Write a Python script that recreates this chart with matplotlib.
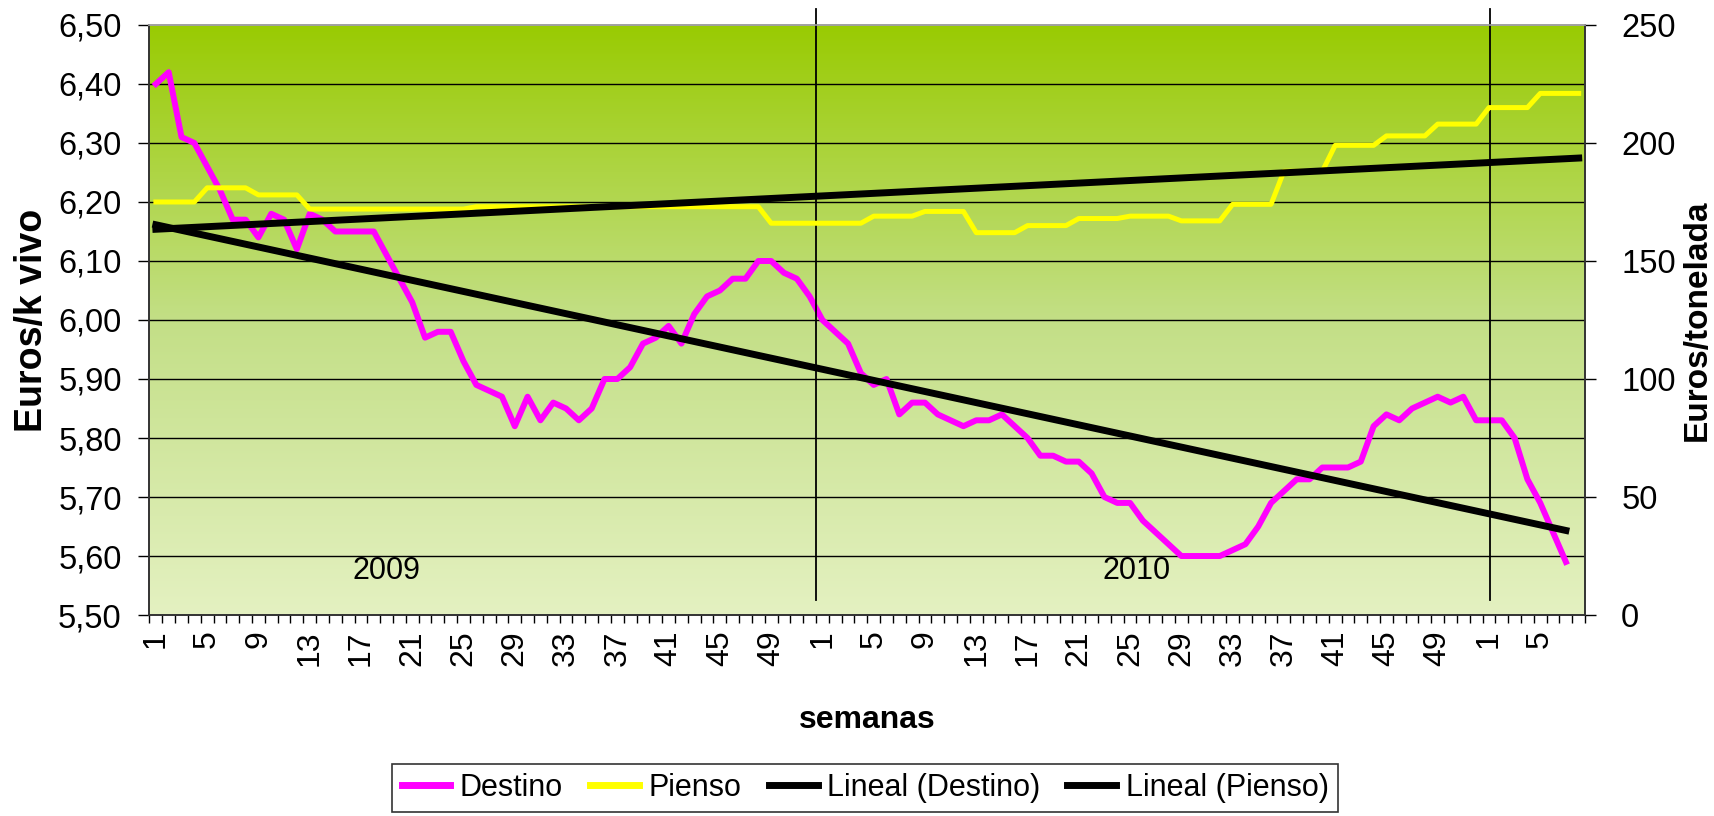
import numpy as np
import matplotlib
matplotlib.use("Agg")
from matplotlib import pyplot as plt
from matplotlib.colors import LinearSegmentedColormap
from matplotlib.lines import Line2D
import matplotlib.transforms as mtransforms

plt.rcParams['font.family'] = ['Liberation Sans', 'DejaVu Sans']

# weekly prices: 2009 wk1 .. 2011 wk7 (Destino, euros/kg vivo)
destino = [6.40, 6.42, 6.31, 6.30, 6.26, 6.22, 6.17, 6.17, 6.14, 6.18,
           6.17, 6.12, 6.18, 6.17, 6.15, 6.15, 6.15, 6.15, 6.11, 6.07,
           6.03, 5.97, 5.98, 5.98, 5.93, 5.89, 5.88, 5.87, 5.82, 5.87,
           5.83, 5.86, 5.85, 5.83, 5.85, 5.90, 5.90, 5.92, 5.96, 5.97,
           5.99, 5.96, 6.01, 6.04, 6.05, 6.07, 6.07, 6.10, 6.10, 6.08,
           6.07, 6.04, 6.00, 5.98, 5.96, 5.91, 5.89, 5.90, 5.84, 5.86,
           5.86, 5.84, 5.83, 5.82, 5.83, 5.83, 5.84, 5.82, 5.80, 5.77,
           5.77, 5.76, 5.76, 5.74, 5.70, 5.69, 5.69, 5.66, 5.64, 5.62,
           5.60, 5.60, 5.60, 5.60, 5.61, 5.62, 5.65, 5.69, 5.71, 5.73,
           5.73, 5.75, 5.75, 5.75, 5.76, 5.82, 5.84, 5.83, 5.85, 5.86,
           5.87, 5.86, 5.87, 5.83, 5.83, 5.83, 5.80, 5.73, 5.69, 5.64,
           5.59]

# feed price (euros/tonelada), 2009 wk1 .. 2011 wk8
pienso = [175, 175, 175, 175, 181, 181, 181, 181, 178, 178,
          178, 178, 172, 172, 172, 172, 172, 172, 172, 172,
          172, 172, 172, 172, 172, 173, 173, 173, 173, 173,
          173, 173, 173, 173, 173, 173, 173, 173, 173, 173,
          173, 173, 173, 173, 173, 173, 173, 173, 166, 166,
          166, 166, 166, 166, 166, 166, 169, 169, 169, 169,
          171, 171, 171, 171, 162, 162, 162, 162, 165, 165,
          165, 165, 168, 168, 168, 168, 169, 169, 169, 169,
          167, 167, 167, 167, 174, 174, 174, 174, 188, 188,
          188, 188, 199, 199, 199, 199, 203, 203, 203, 203,
          208, 208, 208, 208, 215, 215, 215, 215, 221, 221,
          221, 221]

weeks_per_year = [52, 52, 8]
week_labels = [w for n in weeks_per_year for w in range(1, n + 1)]
years = ['2009', '2010']

n = len(week_labels)
x_all = np.arange(n)
x_d = np.arange(len(destino))
x_p = np.arange(len(pienso))

# linear trendlines (as Excel "Lineal")
cd = np.polyfit(x_d, destino, 1)
cp = np.polyfit(x_p, pienso, 1)
trend_d = np.polyval(cd, x_d)
trend_p = np.polyval(cp, x_p)

fig = plt.figure(figsize=(17.14, 8.16), dpi=100)
ax = fig.add_axes([0.0872, 0.2463, 0.8376, 0.7231])
ax2 = ax.twinx()

# gradient background
cmap = LinearSegmentedColormap.from_list('bg', ['#e4f1c1', '#c3df86', '#99cb02'])
grad = np.linspace(0, 1, 256).reshape(-1, 1)
ax.imshow(grad, cmap=cmap, origin='lower', aspect='auto',
          extent=[-0.5, n - 0.5, 5.5, 6.5], zorder=0)

ax.set_xlim(-0.5, n - 0.5)
ax.set_ylim(5.5, 6.5)
ax2.set_ylim(0, 250)

yt = np.round(np.arange(5.5, 6.51, 0.1), 2)
ax.set_yticks(yt)
ax.set_yticklabels([f"{v:.2f}".replace('.', ',') for v in yt])
for v in yt[1:-1]:
    ax.axhline(v, color='black', lw=1.0, zorder=1)

ax2.set_yticks(np.arange(0, 251, 50))

ax.plot(x_d, destino, color='#ff00ff', lw=4.3, zorder=3)
ax.plot(x_d, trend_d, color='black', lw=5.0, zorder=3)
ax2.plot(x_p, pienso, color='#ffff00', lw=3.6, zorder=3)
ax2.plot(x_p, trend_p, color='black', lw=5.0, zorder=3)

# x ticks: labels every 4th week, small marks between categories
lab_pos = x_all[::4]
ax.set_xticks(lab_pos)
ax.set_xticklabels([str(week_labels[i]) for i in lab_pos], rotation=90,
                   ha='center', va='top')
ax.set_xticks(np.arange(-0.5, n, 1), minor=True)
ax.tick_params(axis='x', which='major', length=0, pad=11, labelsize=23)
ax.tick_params(axis='x', which='minor', length=6, width=1, direction='out')
ax.tick_params(axis='y', length=8, width=1, pad=12, labelsize=23.5)
ax2.tick_params(axis='y', length=8, width=1, pad=18, labelsize=23.5)

for a in (ax, ax2):
    for s in a.spines.values():
        s.set_linewidth(1.2)
        s.set_color('#333333')
ax.spines['top'].set_color('#a0a0a0')
ax2.spines['top'].set_color('#a0a0a0')

# year separators
trans = mtransforms.blended_transform_factory(ax.transData, ax.transAxes)
for xv in (51.5, 104.1):
    ax.plot([xv, xv], [0.025, 1.027], transform=trans, color='black',
            lw=1.3, clip_on=False, zorder=4)
ax.text(18, 5.575, years[0], fontsize=22, ha='center', va='center', zorder=4)
ax.text(76.5, 5.575, years[1], fontsize=22, ha='center', va='center', zorder=4)

ax.set_xlabel('semanas', fontsize=23, fontweight='bold', labelpad=28)
ax.set_ylabel('Euros/k vivo', fontsize=27, fontweight='bold', va='center')
ax.yaxis.set_label_coords(-0.082, 0.5)
ax2.set_ylabel('Euros/tonelada', fontsize=24, fontweight='bold', rotation=90,
               va='center')
ax2.yaxis.set_label_coords(1.078, 0.5)

handles = [Line2D([], [], color='#ff00ff', lw=5),
           Line2D([], [], color='#ffff00', lw=5),
           Line2D([], [], color='black', lw=5),
           Line2D([], [], color='black', lw=5)]
labels = ['Destino', 'Pienso', 'Lineal (Destino)', 'Lineal (Pienso)']
leg = fig.legend(handles, labels, loc='center', bbox_to_anchor=(0.5047, 0.0343),
                 ncol=4, fontsize=22, frameon=True, fancybox=False,
                 handlelength=1.6, handletextpad=0.3, columnspacing=0.9,
                 borderpad=0.3)
leg.get_frame().set_edgecolor('black')
leg.get_frame().set_linewidth(1.2)

fig.savefig('out.png', dpi=100)
